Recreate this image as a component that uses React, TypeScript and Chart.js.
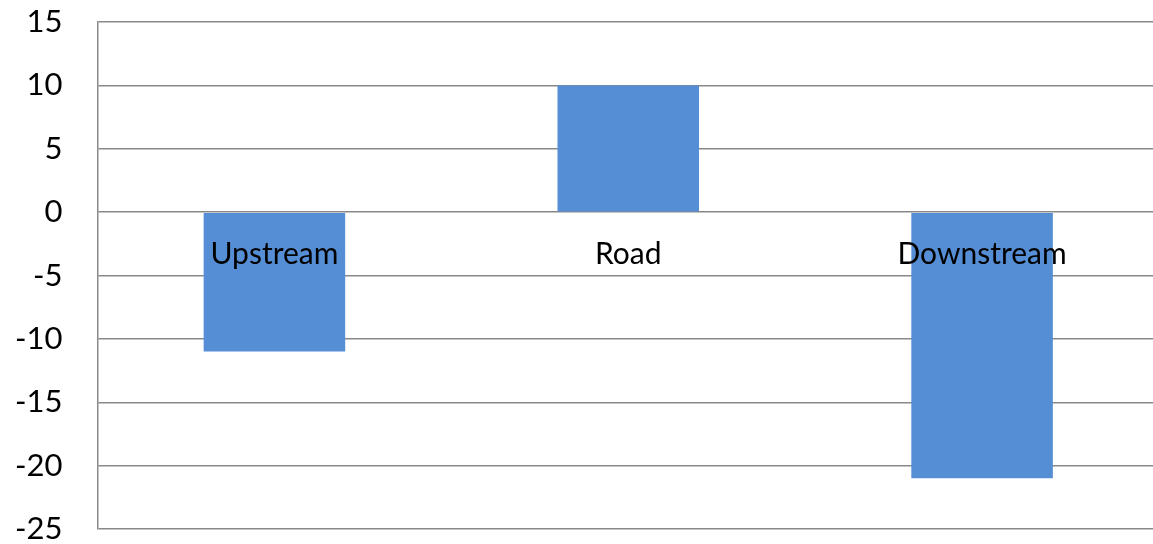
import React, { useEffect, useRef } from "react";
import { Chart, registerables } from "chart.js";

Chart.register(...registerables);

const categories = ["Upstream", "Road", "Downstream"];
const values = [-11, 10, -21];
const yMin = -25;
const yMax = 15;
const yStep = 5;

export default function App() {
  const ref = useRef<HTMLCanvasElement | null>(null);

  useEffect(() => {
    document.body.style.margin = "0";
    const ctx = ref.current!;
    const chart = new Chart(ctx, {
      type: "bar",
      data: {
        labels: categories,
        datasets: [
          {
            data: values,
            backgroundColor: "#558ED5",
            borderWidth: 0,
            barPercentage: 0.4,
            categoryPercentage: 1,
          },
        ],
      },
      options: {
        animation: false,
        responsive: false,
        devicePixelRatio: 1,
        layout: { padding: { top: 22, right: 1, bottom: 15, left: 0 } },
        plugins: { legend: { display: false }, tooltip: { enabled: false } },
        scales: {
          x: {
            position: { y: 0 } as any,
            afterFit: (s: any) => {
              s.height = 0;
            },
            grid: { display: false, drawTicks: false },
            border: { display: false },
            ticks: {
              z: 1,
              color: "#000",
              padding: 24,
              font: { family: "Lato", size: 30 },
              maxRotation: 0,
            },
          },
          y: {
            min: yMin,
            max: yMax,
            afterFit: (s: any) => {
              s.width = 97.5;
              s.paddingTop = 0;
              s.paddingBottom = 0;
            },
            grid: { color: "#898989", lineWidth: 1.5, drawTicks: false },
            border: { display: true, color: "#898989", width: 1.5 },
            ticks: {
              stepSize: yStep,
              color: "#000",
              padding: 35,
              font: { family: "Lato", size: 31 },
            },
          },
        },
      },
    });
    return () => chart.destroy();
  }, []);

  return (
    <div style={{ width: 1153, height: 544, overflow: "hidden" }}>
      <canvas ref={ref} width={1160} height={544} style={{ display: "block" }} />
    </div>
  );
}
